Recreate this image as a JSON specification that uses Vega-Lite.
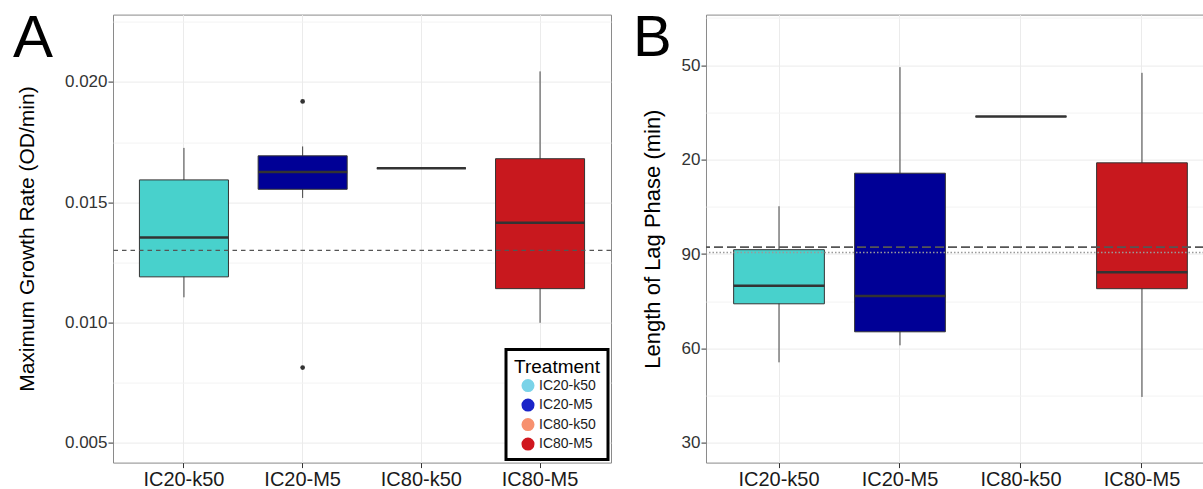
{
  "$schema": "https://vega.github.io/schema/vega-lite/v6.json",
  "padding": {"left": 12, "top": 7.6, "right": 0, "bottom": 0},
  "autosize": {"type": "pad"},
  "background": "white",
  "config": {
    "font": "Liberation Sans",
    "view": {"stroke": "#8a8a8a", "strokeWidth": 1},
    "axis": {"domain": false, "gridColor": "#EBEBEB", "tickColor": "#333333", "tickWidth": 1, "tickSize": 5, "labelColor": "#333333", "titleColor": "#000000", "titleFontWeight": "normal", "labelOverlap": false, "labelFlush": false},
    "legend": {"strokeColor": "#000000", "strokeWidth": 3, "fillColor": "#ffffff"}
  },
  "datasets": {
    "growth": [
      {"Treatment": "IC20-k50", "lo": 0.01105, "q1": 0.0119, "median": 0.01354, "q3": 0.01593, "hi": 0.01726},
      {"Treatment": "IC20-M5", "lo": 0.01518, "q1": 0.01554, "median": 0.01626, "q3": 0.01693, "hi": 0.01732},
      {"Treatment": "IC80-k50", "lo": 0.01641, "q1": 0.01641, "median": 0.01641, "q3": 0.01641, "hi": 0.01641},
      {"Treatment": "IC80-M5", "lo": 0.00999, "q1": 0.01141, "median": 0.01415, "q3": 0.01681, "hi": 0.02044}
    ],
    "growth_out": [
      {"Treatment": "IC20-M5", "value": 0.01919},
      {"Treatment": "IC20-M5", "value": 0.00813}
    ],
    "growth_ref": [{"y": 0.013}],
    "lag": [
      {"Treatment": "IC20-k50", "lo": 55.6, "q1": 74.2, "median": 79.9, "q3": 91.4, "hi": 105.2},
      {"Treatment": "IC20-M5", "lo": 61.0, "q1": 65.3, "median": 76.7, "q3": 115.7, "hi": 149.4},
      {"Treatment": "IC80-k50", "lo": 133.7, "q1": 133.7, "median": 133.7, "q3": 133.7, "hi": 133.7},
      {"Treatment": "IC80-M5", "lo": 44.6, "q1": 79.0, "median": 84.2, "q3": 119.0, "hi": 147.6}
    ],
    "lag_dash": [{"y": 92.2}],
    "lag_dot": [{"y": 90.5}]
  },
  "spacing": 95,
  "bounds": "flush",
  "resolve": {"scale": {"x": "independent", "y": "independent", "color": "independent"}, "legend": {"color": "independent"}},
  "hconcat": [
    {
      "width": 498,
      "height": 448,
      "title": {"text": "A", "anchor": "start", "frame": "group", "offset": -57.6, "dx": -100, "fontSize": 60, "fontWeight": "normal", "color": "#000000"},
      "layer": [
        {
          "data": {"name": "growth"},
          "mark": {"type": "rule", "color": "#404040", "strokeWidth": 1},
          "encoding": {
            "x": {"field": "Treatment", "type": "nominal", "scale": {"type": "band", "domain": ["IC20-k50", "IC20-M5", "IC80-k50", "IC80-M5"], "paddingInner": 0.25, "paddingOuter": 0.2226, "align": 0.5}, "axis": {"title": null, "labelAngle": 0, "labelFontSize": 20, "labelColor": "#1a1a1a", "labelPadding": 2, "grid": true, "bandPosition": 0.5}},
            "y": {"field": "lo", "type": "quantitative", "scale": {"domain": [0.00418, 0.0228], "nice": false, "zero": false},
              "axis": {"title": "Maximum Growth Rate (OD/min)", "titleFontSize": 21, "titlePadding": 26.5, "labelFontSize": 17, "labelPadding": 1,
                "values": [0.005, 0.0075, 0.01, 0.0125, 0.015, 0.0175, 0.02, 0.0225],
                "labelExpr": "abs(datum.value*200 - round(datum.value*200)) > 0.01 ? '' : format(datum.value, '.3f')",
                "tickOpacity": {"condition": {"test": "abs(datum.value*200 - round(datum.value*200)) > 0.01", "value": 0}, "value": 1},
                "gridColor": {"condition": {"test": "abs(datum.value*200 - round(datum.value*200)) > 0.01", "value": "#F3F3F3"}, "value": "#EBEBEB"}}},
            "y2": {"field": "hi"}
          }
        },
        {
          "data": {"name": "growth"},
          "mark": {"type": "bar", "stroke": "#333333", "strokeWidth": 1},
          "encoding": {
            "x": {"field": "Treatment", "type": "nominal"},
            "y": {"field": "q1", "type": "quantitative"},
            "y2": {"field": "q3"},
            "fill": {"field": "Treatment", "type": "nominal", "scale": {"domain": ["IC20-k50", "IC20-M5", "IC80-k50", "IC80-M5"], "range": ["#48D1CC", "#000096", "#F4937A", "#C8181E"]}, "legend": null}
          }
        },
        {
          "data": {"name": "growth"},
          "mark": {"type": "tick", "color": "#333333", "thickness": 2.5, "size": 89, "opacity": 1},
          "encoding": {
            "x": {"field": "Treatment", "type": "nominal"},
            "y": {"field": "median", "type": "quantitative"}
          }
        },
        {
          "data": {"name": "growth_out"},
          "mark": {"type": "point", "filled": true, "color": "#333333", "size": 22, "opacity": 1},
          "encoding": {
            "x": {"field": "Treatment", "type": "nominal"},
            "y": {"field": "value", "type": "quantitative"}
          }
        },
        {
          "data": {"name": "growth"},
          "mark": {"type": "point", "filled": true, "opacity": 0, "shape": "circle"},
          "encoding": {
            "x": {"field": "Treatment", "type": "nominal"},
            "y": {"field": "median", "type": "quantitative"},
            "color": {"field": "Treatment", "type": "nominal",
              "scale": {"domain": ["IC20-k50", "IC20-M5", "IC80-k50", "IC80-M5"], "range": ["#7AD3E8", "#1A24C8", "#F7916F", "#D0171F"]},
              "legend": {"title": "Treatment", "orient": "bottom-right", "offset": 3, "padding": 8, "strokeColor": "#000000", "fillColor": "#ffffff",
                "titleFontSize": 19, "titleFontWeight": "normal", "titleColor": "#000000", "titleAnchor": "middle", "titlePadding": 2,
                "labelFontSize": 14, "labelColor": "#1a1a1a", "labelOffset": 4,
                "symbolType": "circle", "symbolSize": 170, "symbolStrokeWidth": 0, "symbolOpacity": 1, "symbolOffset": 3, "rowPadding": 5.5}}
          }
        },
        {
          "data": {"name": "growth_ref"},
          "mark": {"type": "rule", "color": "#555555", "strokeWidth": 1.3, "strokeDash": [4.5, 4]},
          "encoding": {"y": {"field": "y", "type": "quantitative"}}
        }
      ]
    },
    {
      "width": 498,
      "height": 448,
      "title": {"text": "B", "anchor": "start", "frame": "group", "offset": -58.7, "dx": -73, "fontSize": 58, "fontWeight": "normal", "color": "#000000"},
      "layer": [
        {
          "data": {"name": "lag"},
          "mark": {"type": "rule", "color": "#404040", "strokeWidth": 1},
          "encoding": {
            "x": {"field": "Treatment", "type": "nominal", "scale": {"type": "band", "domain": ["IC20-k50", "IC20-M5", "IC80-k50", "IC80-M5"], "paddingInner": 0.25, "paddingOuter": 0.183, "align": 0.624}, "axis": {"title": null, "labelAngle": 0, "labelFontSize": 20, "labelColor": "#1a1a1a", "labelPadding": 2, "grid": true, "bandPosition": 0.5}},
            "y": {"field": "lo", "type": "quantitative", "scale": {"domain": [23.74, 166.1], "nice": false, "zero": false},
              "axis": {"title": "Length of Lag Phase (min)", "titleFontSize": 22, "titlePadding": 17, "labelFontSize": 17, "labelPadding": 1,
                "values": [30, 45, 60, 75, 90, 105, 120, 135, 150, 165],
                "labelExpr": "datum.value % 30 != 0 ? '' : (datum.value >= 100 ? substring(datum.label, 1) : datum.label)",
                "tickOpacity": {"condition": {"test": "datum.value % 30 != 0", "value": 0}, "value": 1},
                "gridColor": {"condition": {"test": "datum.value % 30 != 0", "value": "#F3F3F3"}, "value": "#EBEBEB"}}},
            "y2": {"field": "hi"}
          }
        },
        {
          "data": {"name": "lag"},
          "mark": {"type": "bar", "stroke": "#333333", "strokeWidth": 1},
          "encoding": {
            "x": {"field": "Treatment", "type": "nominal"},
            "y": {"field": "q1", "type": "quantitative"},
            "y2": {"field": "q3"},
            "fill": {"field": "Treatment", "type": "nominal", "scale": {"domain": ["IC20-k50", "IC20-M5", "IC80-k50", "IC80-M5"], "range": ["#48D1CC", "#000096", "#F4937A", "#C8181E"]}, "legend": null}
          }
        },
        {
          "data": {"name": "lag"},
          "mark": {"type": "tick", "color": "#333333", "thickness": 2.5, "size": 91, "opacity": 1},
          "encoding": {
            "x": {"field": "Treatment", "type": "nominal"},
            "y": {"field": "median", "type": "quantitative"}
          }
        },
        {
          "data": {"name": "lag_dot"},
          "mark": {"type": "rule", "color": "#9a9a9a", "strokeWidth": 1.3, "strokeDash": [1.5, 2]},
          "encoding": {"y": {"field": "y", "type": "quantitative"}}
        },
        {
          "data": {"name": "lag_dash"},
          "mark": {"type": "rule", "color": "#555555", "strokeWidth": 1.8, "strokeDash": [9, 4]},
          "encoding": {"y": {"field": "y", "type": "quantitative"}}
        }
      ]
    }
  ]
}
